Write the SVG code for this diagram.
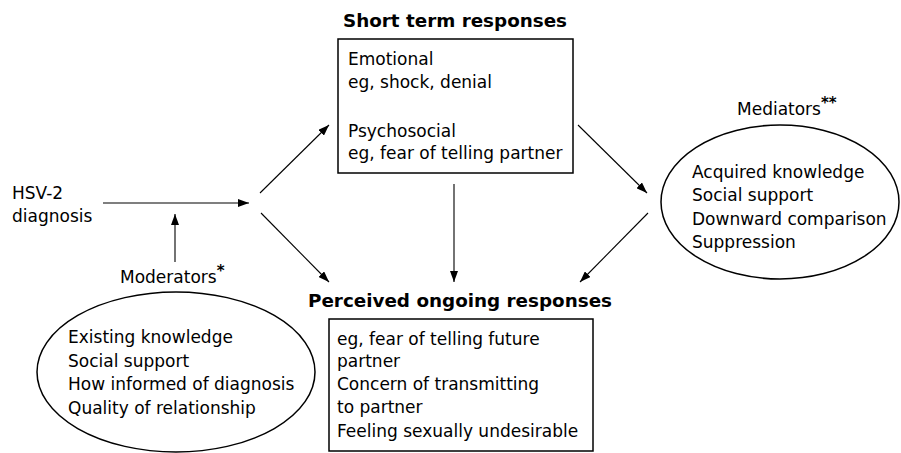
<svg xmlns="http://www.w3.org/2000/svg" width="901" height="453" viewBox="0 0 901 453">
<defs>
<style>
text{font-family:"DejaVu Sans","Liberation Sans",sans-serif;font-size:17px;fill:#000}
.t{font-weight:bold;font-size:18px}
.box{fill:none;stroke:#000;stroke-width:1.5}
.ell{fill:none;stroke:#000;stroke-width:1.5}
.c line{stroke:#000;stroke-width:1.1;marker-end:url(#ah)}
.st{font-size:15px;font-weight:bold}
</style>
<marker id="ah" markerWidth="11" markerHeight="8" refX="11" refY="4" orient="auto" markerUnits="userSpaceOnUse"><path d="M0,0 L11,4 L0,8 Z" fill="#000"/></marker>
</defs>
<rect width="901" height="453" fill="#fff"/>
<g id="hsv">
<text x="12" y="199">HSV-2</text>
<text x="12" y="222">diagnosis</text>
</g>
<g id="short">
<text class="t" x="343" y="27" textLength="224" lengthAdjust="spacingAndGlyphs">Short term responses</text>
<rect class="box" x="338" y="39" width="235" height="134"/>
<text x="348" y="65">Emotional</text>
<text x="348" y="88">eg, shock, denial</text>
<text x="348" y="137">Psychosocial</text>
<text x="348" y="159">eg, fear of telling partner</text>
</g>
<g id="mediators">
<text x="737" y="115">Mediators<tspan class="st" dy="-7">**</tspan></text>
<ellipse class="ell" cx="780" cy="202" rx="119" ry="77"/>
<text x="692" y="178">Acquired knowledge</text>
<text x="692" y="201">Social support</text>
<text x="692" y="225">Downward comparison</text>
<text x="692" y="248">Suppression</text>
</g>
<g id="moderators">
<text x="120" y="283">Moderators<tspan class="st" dy="-7">*</tspan></text>
<ellipse class="ell" cx="176" cy="372" rx="139" ry="80"/>
<text x="68" y="343">Existing knowledge</text>
<text x="68" y="367">Social support</text>
<text x="68" y="390">How informed of diagnosis</text>
<text x="68" y="414">Quality of relationship</text>
</g>
<g id="perceived">
<text class="t" x="308" y="307" textLength="304" lengthAdjust="spacingAndGlyphs">Perceived ongoing responses</text>
<rect class="box" x="329" y="319" width="264" height="132"/>
<text x="337" y="345">eg, fear of telling future</text>
<text x="337" y="367">partner</text>
<text x="337" y="390">Concern of transmitting</text>
<text x="337" y="413">to partner</text>
<text x="337" y="437">Feeling sexually undesirable</text>
</g>
<g id="connectors" class="c">
<line x1="103" y1="203" x2="249" y2="203"/>
<line x1="175" y1="262" x2="175" y2="214"/>
<line x1="260" y1="193" x2="329" y2="125"/>
<line x1="261" y1="213" x2="329" y2="282"/>
<line x1="454" y1="184" x2="454" y2="282"/>
<line x1="578" y1="125" x2="647" y2="193"/>
<line x1="648" y1="213" x2="580" y2="282"/>
</g>
</svg>
